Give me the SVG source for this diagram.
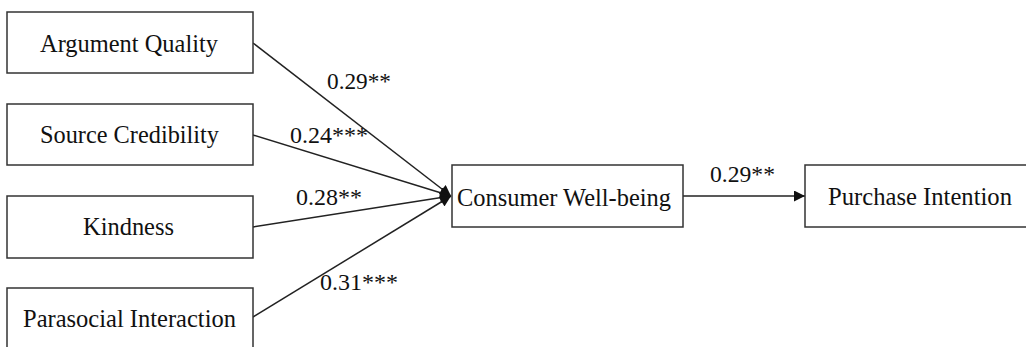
<svg xmlns="http://www.w3.org/2000/svg" width="1026" height="347" viewBox="0 0 1026 347">
<style>
.box{fill:#fff;stroke:#333;stroke-width:1.5}
.t{font-family:"Liberation Serif","Times New Roman",serif;font-size:24.5px;fill:#111}
.l{font-family:"Liberation Serif","Times New Roman",serif;font-size:24px;fill:#111}
.c{stroke:#222;stroke-width:1.5;fill:none;marker-end:url(#ah)}
</style>
<defs>
<marker id="ah" viewBox="0 0 10 10" refX="10" refY="5" markerWidth="12" markerHeight="11" markerUnits="userSpaceOnUse" orient="auto">
<path d="M0,0 L10,5 L0,10 z" fill="#111"/>
</marker>
</defs>
<rect width="1026" height="347" fill="#fff"/>
<g id="connectors">
<line class="c" x1="253" y1="43" x2="451" y2="196"/>
<line class="c" x1="253" y1="135" x2="451" y2="196"/>
<line class="c" x1="253" y1="227" x2="451" y2="196"/>
<line class="c" x1="253" y1="317" x2="451" y2="196"/>
<line class="c" x1="683" y1="196" x2="805" y2="196"/>
<text class="l" x="327" y="89" textLength="64" lengthAdjust="spacingAndGlyphs">0.29**</text>
<text class="l" x="290" y="143" textLength="78" lengthAdjust="spacingAndGlyphs">0.24***</text>
<text class="l" x="296" y="205" textLength="66" lengthAdjust="spacingAndGlyphs">0.28**</text>
<text class="l" x="320" y="290" textLength="78" lengthAdjust="spacingAndGlyphs">0.31***</text>
<text class="l" x="710" y="182" textLength="65" lengthAdjust="spacingAndGlyphs">0.29**</text>
</g>
<g id="argument-quality"><rect class="box" x="7" y="12" width="246" height="61"/><text class="t" x="40" y="52" textLength="178" lengthAdjust="spacingAndGlyphs">Argument Quality</text></g>
<g id="source-credibility"><rect class="box" x="7" y="104" width="246" height="61"/><text class="t" x="40" y="143" textLength="179" lengthAdjust="spacingAndGlyphs">Source Credibility</text></g>
<g id="kindness"><rect class="box" x="7" y="196" width="246" height="62"/><text class="t" x="83" y="235" textLength="91" lengthAdjust="spacingAndGlyphs">Kindness</text></g>
<g id="parasocial-interaction"><rect class="box" x="7" y="288" width="246" height="62"/><text class="t" x="23" y="327" textLength="213" lengthAdjust="spacingAndGlyphs">Parasocial Interaction</text></g>
<g id="consumer-well-being"><rect class="box" x="452" y="165" width="231" height="62"/><text class="t" x="457" y="206" textLength="214" lengthAdjust="spacingAndGlyphs">Consumer Well-being</text></g>
<g id="purchase-intention"><rect class="box" x="805" y="165" width="230" height="62"/><text class="t" x="828" y="205" textLength="184" lengthAdjust="spacingAndGlyphs">Purchase Intention</text></g>
</svg>
